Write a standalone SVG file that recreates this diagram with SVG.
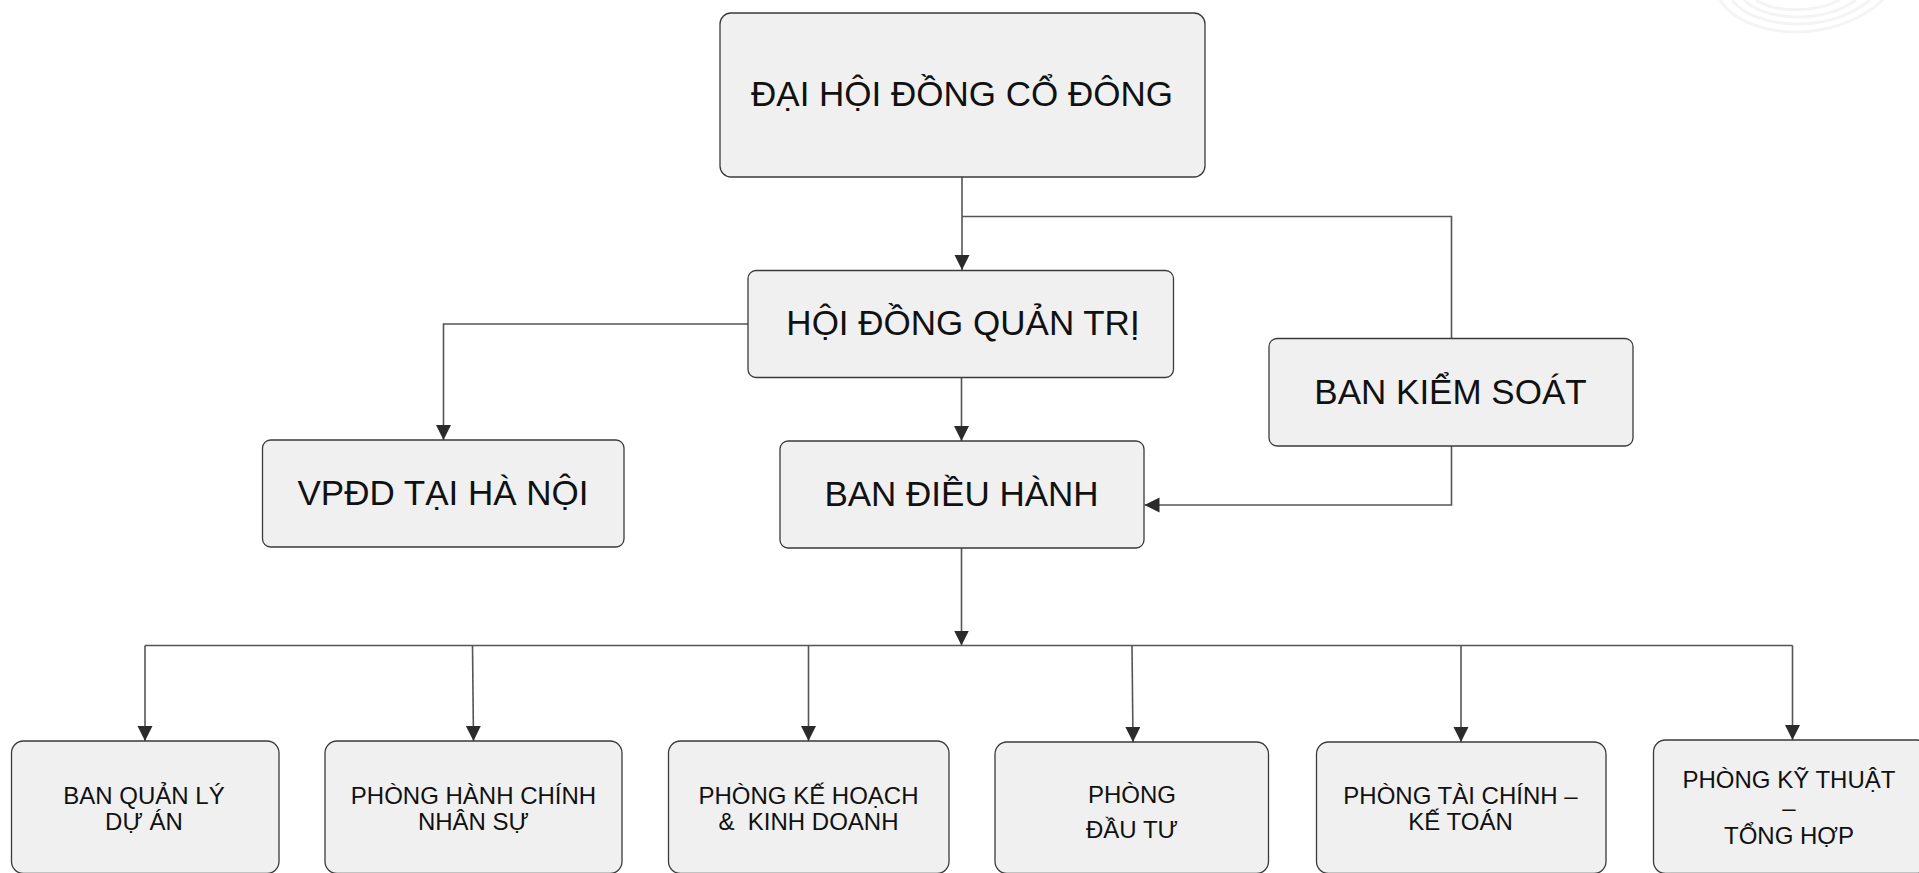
<svg xmlns="http://www.w3.org/2000/svg" width="1919" height="873" viewBox="0 0 1919 873">
  <style>
    .box { fill: #f0f0f0; stroke: #3a3a3a; stroke-width: 1.3; }
    .big { font-family: "Liberation Sans", Arial, sans-serif; font-size: 35px; fill: #111; text-anchor: middle; }
    .small { font-family: "Liberation Sans", Arial, sans-serif; font-size: 24px; fill: #111; text-anchor: middle; white-space: pre; }
    .conn { fill: none; stroke: #555; stroke-width: 1.6; }
    .deco { fill: none; stroke: #f4f4f4; stroke-width: 3; }
  </style>
  <defs>
    <marker id="arrow" markerUnits="userSpaceOnUse" markerWidth="16" markerHeight="16" refX="15" refY="7.5" orient="auto">
      <path d="M0,0 L15,7.5 L0,15 z" fill="#2b2b2b"/>
    </marker>
  </defs>
  <rect width="1919" height="873" fill="#ffffff"/>

  <g id="decoration">
    <path class="deco" d="M1720,0 C1745,40 1835,45 1883,0"/>
    <path class="deco" d="M1732,0 C1755,30 1830,34 1870,0"/>
    <path class="deco" d="M1744,0 C1765,21 1822,24 1856,0"/>
    <path class="deco" d="M1756,0 C1774,12 1812,14 1840,0"/>
  </g>

  <g id="connectors">
    <path class="conn" d="M962,177 V270" marker-end="url(#arrow)"/>
    <path class="conn" d="M962,216.5 H1451.5 V338.5"/>
    <path class="conn" d="M748,324 H443.5 V440" marker-end="url(#arrow)"/>
    <path class="conn" d="M961.5,364 V441" marker-end="url(#arrow)"/>
    <path class="conn" d="M1451.5,446 V505 H1144.5" marker-end="url(#arrow)"/>
    <path class="conn" d="M961.5,548 V645.5" marker-end="url(#arrow)"/>
    <path class="conn" d="M145,645.5 H1792.5"/>
    <path class="conn" d="M145,645.5 V741" marker-end="url(#arrow)"/>
    <path class="conn" d="M472.5,645.5 L473.5,741" marker-end="url(#arrow)"/>
    <path class="conn" d="M808.5,645.5 V741" marker-end="url(#arrow)"/>
    <path class="conn" d="M1132,645.5 L1133,742" marker-end="url(#arrow)"/>
    <path class="conn" d="M1461,645.5 V742" marker-end="url(#arrow)"/>
    <path class="conn" d="M1792.5,645.5 V740" marker-end="url(#arrow)"/>
  </g>

  <g id="dai-hoi-dong-co-dong">
    <rect class="box" x="720" y="13" width="485" height="164" rx="11"/>
    <text class="big" x="962" y="106">ĐẠI HỘI ĐỒNG CỔ ĐÔNG</text>
  </g>
  <g id="hoi-dong-quan-tri">
    <rect class="box" x="748" y="270.5" width="425.5" height="107" rx="8"/>
    <text class="big" x="963" y="335">HỘI ĐỒNG QUẢN TRỊ</text>
  </g>
  <g id="vpdd-ha-noi">
    <rect class="box" x="262.5" y="440" width="361.5" height="107" rx="8"/>
    <text class="big" x="443" y="505">VPĐD TẠI HÀ NỘI</text>
  </g>
  <g id="ban-dieu-hanh">
    <rect class="box" x="780" y="441" width="364" height="107" rx="8"/>
    <text class="big" x="961.5" y="506">BAN ĐIỀU HÀNH</text>
  </g>
  <g id="ban-kiem-soat">
    <rect class="box" x="1269" y="338.5" width="364" height="107.5" rx="8"/>
    <text class="big" x="1450.5" y="404">BAN KIỂM SOÁT</text>
  </g>

  <g id="ban-quan-ly-du-an">
    <rect class="box" x="11.5" y="741" width="267.5" height="132.5" rx="12"/>
    <text class="small" x="144" y="804">BAN QUẢN LÝ</text>
    <text class="small" x="144" y="830">DỰ ÁN</text>
  </g>
  <g id="phong-hanh-chinh-nhan-su">
    <rect class="box" x="325" y="741" width="297" height="132.5" rx="12"/>
    <text class="small" x="473.5" y="804">PHÒNG HÀNH CHÍNH</text>
    <text class="small" x="473.5" y="830">NHÂN SỰ</text>
  </g>
  <g id="phong-ke-hoach-kinh-doanh">
    <rect class="box" x="668.5" y="741" width="280.5" height="132.5" rx="12"/>
    <text class="small" x="808.5" y="804">PHÒNG KẾ HOẠCH</text>
    <text class="small" x="808.5" y="830">&amp;  KINH DOANH</text>
  </g>
  <g id="phong-dau-tu">
    <rect class="box" x="995" y="742" width="273.5" height="131.5" rx="12"/>
    <text class="small" x="1132" y="803">PHÒNG</text>
    <text class="small" x="1132" y="838">ĐẦU TƯ</text>
  </g>
  <g id="phong-tai-chinh-ke-toan">
    <rect class="box" x="1316.5" y="742" width="289.5" height="131.5" rx="12"/>
    <text class="small" x="1460.5" y="804">PHÒNG TÀI CHÍNH –</text>
    <text class="small" x="1460.5" y="830">KẾ TOÁN</text>
  </g>
  <g id="phong-ky-thuat-tong-hop">
    <rect class="box" x="1653.5" y="740" width="275" height="133.5" rx="12"/>
    <text class="small" x="1789" y="788">PHÒNG KỸ THUẬT</text>
    <text class="small" x="1789" y="816">–</text>
    <text class="small" x="1789" y="844">TỔNG HỢP</text>
  </g>
</svg>
